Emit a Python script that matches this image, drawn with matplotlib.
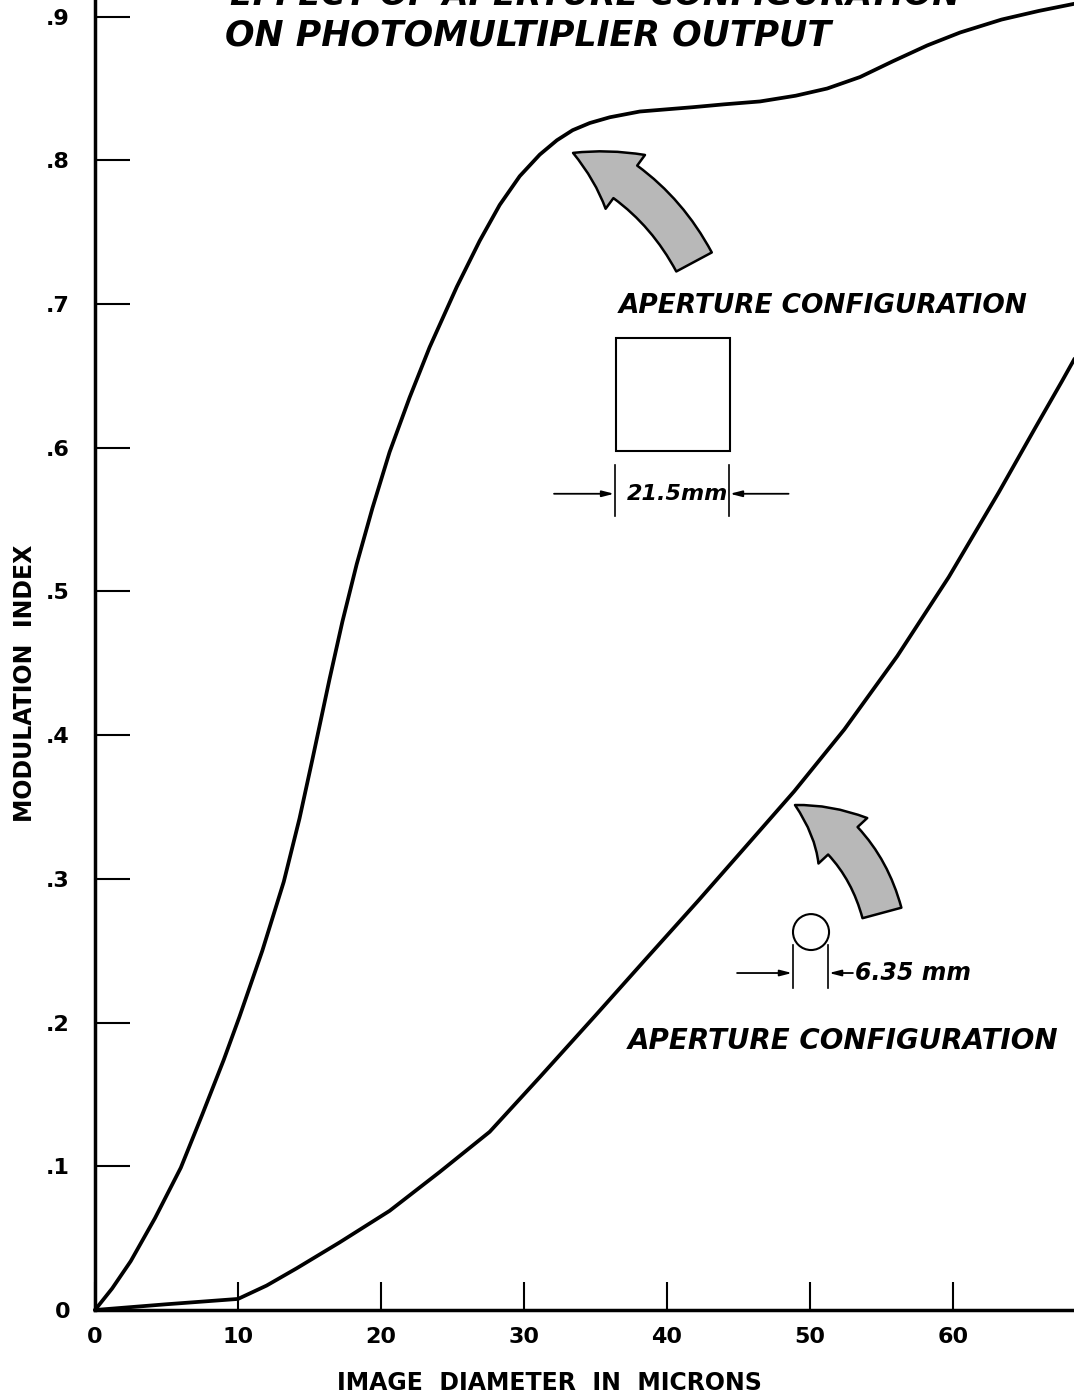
import matplotlib
matplotlib.use("Agg")
import matplotlib.pyplot as plt
from matplotlib.patches import Rectangle, Ellipse, FancyArrowPatch

# curve for the 21.5 mm square aperture
square_x = [0, 1.2, 2.5, 4.2, 6.0, 7.5, 9.0, 10.1, 11.7, 13.2, 14.3, 15.2, 16.4, 17.3,
            18.3, 19.4, 20.6, 22.0, 23.4, 25.3, 26.9, 28.3, 29.7, 31.1, 32.3, 33.4,
            34.6, 36.0, 38.1, 41.8, 44.0, 46.5, 49.0, 51.2, 53.5, 55.8, 58.2, 60.5,
            63.4, 66.0, 68.5]
square_y = [0, .015, .034, .064, .099, .136, .174, .204, .250, .298, .342, .383, .439, .479,
            .519, .558, .597, .635, .670, .712, .744, .769, .789, .804, .814, .821,
            .826, .830, .834, .837, .839, .841, .845, .850, .858, .869, .880, .889,
            .898, .904, .909]

# curve for the 6.35 mm round aperture
round_x = [0, 5, 10, 12, 14.1, 17.1, 20.6, 24.1, 27.6, 31.1, 35.0, 38.5, 42.2, 45.2,
           48.9, 52.4, 56.1, 59.7, 63.2, 65.7, 67.6, 68.5]
round_y = [0, .004, .0077, .017, .029, .047, .069, .096, .124, .162, .205, .244, .285, .319,
           .361, .404, .455, .510, .569, .613, .646, .662]

x_ticks = [0, 10, 20, 30, 40, 50, 60]
x_tick_labels = ["0", "10", "20", "30", "40", "50", "60"]
y_ticks = [0, .1, .2, .3, .4, .5, .6, .7, .8, .9]
y_tick_labels = ["0", ".1", ".2", ".3", ".4", ".5", ".6", ".7", ".8", ".9"]

plt.rcParams["font.family"] = ["DejaVu Sans"]

fig = plt.figure(figsize=(10.74, 14), dpi=100)
ax = fig.add_axes([95 / 1074, 90 / 1400, 979 / 1074, 1310 / 1400])
ax.set_xlim(0, 68.46)
ax.set_ylim(0, 0.9116)

ax.plot(square_x, square_y, color="black", lw=2.7, clip_on=False,
        solid_capstyle="round", solid_joinstyle="round")
ax.plot(round_x, round_y, color="black", lw=2.7, clip_on=False,
        solid_capstyle="round", solid_joinstyle="round")

for side in ["top", "right"]:
    ax.spines[side].set_visible(False)
for side in ["left", "bottom"]:
    ax.spines[side].set_linewidth(2.5)

ax.set_xticks(x_ticks)
ax.set_xticklabels(x_tick_labels)
ax.set_yticks(y_ticks)
ax.set_yticklabels(y_tick_labels)
ax.tick_params(axis="x", direction="in", length=20, width=1.5, pad=12,
               labelsize=16)
ax.tick_params(axis="y", direction="in", length=25, width=1.5, pad=18,
               labelsize=16)
for lab in ax.get_xticklabels() + ax.get_yticklabels():
    lab.set_fontweight("bold")

fig.text(549 / 1074, 1 - 1383 / 1400, "IMAGE  DIAMETER  IN  MICRONS",
         ha="center", va="center", fontsize=17, fontweight="bold")
fig.text(25 / 1074, 1 - 683 / 1400, "MODULATION  INDEX", rotation=90,
         ha="center", va="center", fontsize=17, fontweight="bold")

# title, top line is cut off by the edge of the sheet
ital = dict(fontstyle="italic", fontweight="bold", color="black", clip_on=False)
ax.text(9.44, 0.9081, "EFFECT OF APERTURE CONFIGURATION", ha="left",
        va="baseline", fontsize=24, **ital)
ax.text(9.09, 0.880, "ON PHOTOMULTIPLIER OUTPUT", ha="left", va="baseline",
        fontsize=25, **ital)

# square aperture sketch
ax.text(36.64, 0.6938, "APERTURE CONFIGURATION", ha="left", va="baseline",
        fontsize=19, **ital)
ax.add_patch(Rectangle((36.43, 0.5978), 7.98, 0.0786, fill=False, lw=1.5,
                       edgecolor="black"))
ax.plot([36.36, 36.36], [0.5525, 0.588], color="black", lw=1.2)
ax.plot([44.34, 44.34], [0.5525, 0.588], color="black", lw=1.2)
dim = dict(arrowstyle="-|>,head_length=0.7,head_width=0.18", lw=1.3,
           color="black", shrinkA=0, shrinkB=0)
ax.annotate("", xy=(36.3, 0.568), xytext=(32.1, 0.568), arrowprops=dim)
ax.annotate("", xy=(44.4, 0.568), xytext=(48.5, 0.568), arrowprops=dim)
ax.text(40.7, 0.568, "21.5mm", ha="center", va="center", fontsize=16, **ital)

# round aperture sketch
ax.add_patch(Ellipse((50.07, 0.263), 2.52, 0.025, fill=False, lw=1.5,
                     edgecolor="black"))
ax.plot([48.81, 48.81], [0.224, 0.254], color="black", lw=1.2)
ax.plot([51.26, 51.26], [0.224, 0.254], color="black", lw=1.2)
ax.annotate("", xy=(48.74, 0.2345), xytext=(44.9, 0.2345), arrowprops=dim)
ax.annotate("", xy=(51.33, 0.2345), xytext=(53.0, 0.2345), arrowprops=dim)
ax.text(53.15, 0.2345, "6.35 mm", ha="left", va="center", fontsize=17, **ital)
ax.text(67.34, 0.1816, "APERTURE CONFIGURATION", ha="right", va="baseline",
        fontsize=20, **ital)

# big shaded pointers
for tail, tip, rad in [((41.89, 0.7293), (33.43, 0.8052), 0.18),
                       ((55.03, 0.2763), (48.95, 0.3514), 0.22)]:
    arr = FancyArrowPatch(tail, tip, connectionstyle=f"arc3,rad={rad}",
                          arrowstyle="simple,head_length=4.3,head_width=4.8,tail_width=2.9",
                          mutation_scale=10, facecolor="#b8b8b8",
                          edgecolor="black", lw=1.8, shrinkA=0, shrinkB=0)
    ax.add_patch(arr)

fig.savefig("out.png", dpi=100)
